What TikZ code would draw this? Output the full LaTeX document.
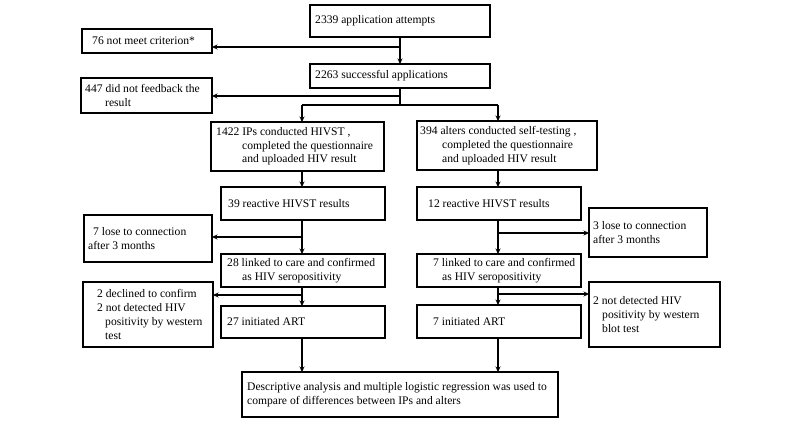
\documentclass[tikz,border=0pt]{standalone}
\usepackage{fontspec}
\setmainfont{Liberation Serif}
\usetikzlibrary{arrows.meta}
\tikzset{
  box/.style={draw, line width=1.1pt, inner sep=0pt, outer sep=0pt},
  txt/.style={anchor=west, inner sep=0pt, align=left, font=\fontsize{11.6}{13.7}\selectfont},
  ln/.style={line width=1.1pt},
  arr/.style={line width=1.1pt, -{Stealth[length=5.5pt,width=5pt]}}
}
\begin{document}
\begin{tikzpicture}[x=1pt,y=-1pt]
\useasboundingbox (0,0) rectangle (800,421);
% boxes
\node[box, minimum width=180pt, minimum height=32pt] (a1) at (400,21) {};
\node[box, minimum width=130pt, minimum height=24pt] (n76) at (147,41) {};
\node[box, minimum width=180pt, minimum height=24pt] (a2) at (400,76) {};
\node[box, minimum width=131pt, minimum height=35pt] (n447) at (146.5,95.5) {};
\node[box, minimum width=173pt, minimum height=49pt] (ip) at (297.5,146.5) {};
\node[box, minimum width=180pt, minimum height=49pt] (al) at (507,145.5) {};
\node[box, minimum width=164pt, minimum height=33pt] (r39) at (303,203.5) {};
\node[box, minimum width=164pt, minimum height=33pt] (r12) at (499,203.5) {};
\node[box, minimum width=128pt, minimum height=47pt] (l7) at (148,238.5) {};
\node[box, minimum width=118pt, minimum height=49pt] (l3) at (648,232.5) {};
\node[box, minimum width=164pt, minimum height=33pt] (k28) at (303,270.5) {};
\node[box, minimum width=164pt, minimum height=33pt] (k7) at (499,270.5) {};
\node[box, minimum width=130pt, minimum height=65pt] (d2) at (148,314.5) {};
\node[box, minimum width=131pt, minimum height=65pt] (nd2) at (654.5,314.5) {};
\node[box, minimum width=164pt, minimum height=32pt] (i27) at (303,322) {};
\node[box, minimum width=164pt, minimum height=33pt] (i7) at (499,321.5) {};
\node[box, minimum width=316pt, minimum height=45pt] (desc) at (400,394.5) {};
% texts
\node[txt] (a1t) at ([xshift=5pt]a1.west) {2339 application attempts};
\node[txt] (n76t) at ([xshift=10pt]n76.west) {76 not meet criterion*};
\node[txt] (a2t) at ([xshift=5pt]a2.west) {2263 successful applications};
\node[txt] (n447t) at ([xshift=4pt]n447.west) {447 did not feedback the\\\hspace*{20pt}result};
\node[txt] (ipt) at ([xshift=5pt]ip.west) {1422 IPs conducted HIVST ,\\\hspace*{26pt}completed the questionnaire\\\hspace*{26pt}and uploaded HIV result};
\node[txt] (alt) at ([xshift=3pt]al.west) {394 alters conducted self-testing ,\\\hspace*{22pt}completed the questionnaire\\\hspace*{22pt}and uploaded HIV result};
\node[txt] (r39t) at ([xshift=7pt]r39.west) {39 reactive HIVST results};
\node[txt] (r12t) at ([xshift=11pt]r12.west) {12 reactive HIVST results};
\node[txt] (l7t) at ([xshift=4pt]l7.west) {\hspace*{5pt}7 lose to connection\\after 3 months};
\node[txt] (l3t) at ([xshift=4pt]l3.west) {3 lose to connection\\after 3 months};
\node[txt] (k28t) at ([xshift=6pt]k28.west) {28 linked to care and confirmed\\\hspace*{15pt}as HIV seropositivity};
\node[txt] (k7t) at ([xshift=16pt]k7.west) {7 linked to care and confirmed\\\hspace*{9pt}as HIV seropositivity};
\node[txt] (d2t) at ([xshift=14pt]d2.west) {2 declined to confirm\\2 not detected HIV\\\hspace*{8pt}positivity by western\\\hspace*{8pt}test};
\node[txt] (nd2t) at ([xshift=4pt]nd2.west) {2 not detected HIV\\\hspace*{9pt}positivity by western\\\hspace*{9pt}blot test};
\node[txt] (i27t) at ([xshift=6pt]i27.west) {27 initiated ART};
\node[txt] (i7t) at ([xshift=16pt]i7.west) {7 initiated ART};
\node[txt] (desct) at ([xshift=5pt]desc.west) {Descriptive analysis and multiple logistic regression was used to\\compare of differences between IPs and alters};
% connectors
\coordinate (b1) at (400,47);
\coordinate (b2) at (400,96);
\coordinate (sp) at (400,105);
\coordinate (cl) at (302,105);
\coordinate (cr) at (498,105);
\coordinate (b3) at (302,237);
\coordinate (b4) at (498,233);
\coordinate (b5) at (302,295);
\coordinate (b6) at (498,294);
\draw[arr] (a1.south) -- (a2.north);
\draw[arr] (b1) -- (b1 -| n76.east);
\draw[ln] (a2.south) -- (sp);
\draw[arr] (b2) -- (b2 -| n447.east);
\draw[ln] (cl) -- (cr);
\draw[arr] (cl) -- (cl |- ip.north);
\draw[arr] (cr) -- (cr |- al.north);
\draw[arr] (cl |- ip.south) -- (cl |- r39.north);
\draw[arr] (cr |- al.south) -- (cr |- r12.north);
\draw[arr] (cl |- r39.south) -- (cl |- k28.north);
\draw[arr] (cr |- r12.south) -- (cr |- k7.north);
\draw[arr] (b3) -- (b3 -| l7.east);
\draw[arr] (b4) -- (b4 -| l3.west);
\draw[arr] (cl |- k28.south) -- (cl |- i27.north);
\draw[arr] (cr |- k7.south) -- (cr |- i7.north);
\draw[arr] (b5) -- (b5 -| d2.east);
\draw[arr] (b6) -- (b6 -| nd2.west);
\draw[arr] (cl |- i27.south) -- (cl |- desc.north);
\draw[arr] (cr |- i7.south) -- (cr |- desc.north);
\end{tikzpicture}
\end{document}
